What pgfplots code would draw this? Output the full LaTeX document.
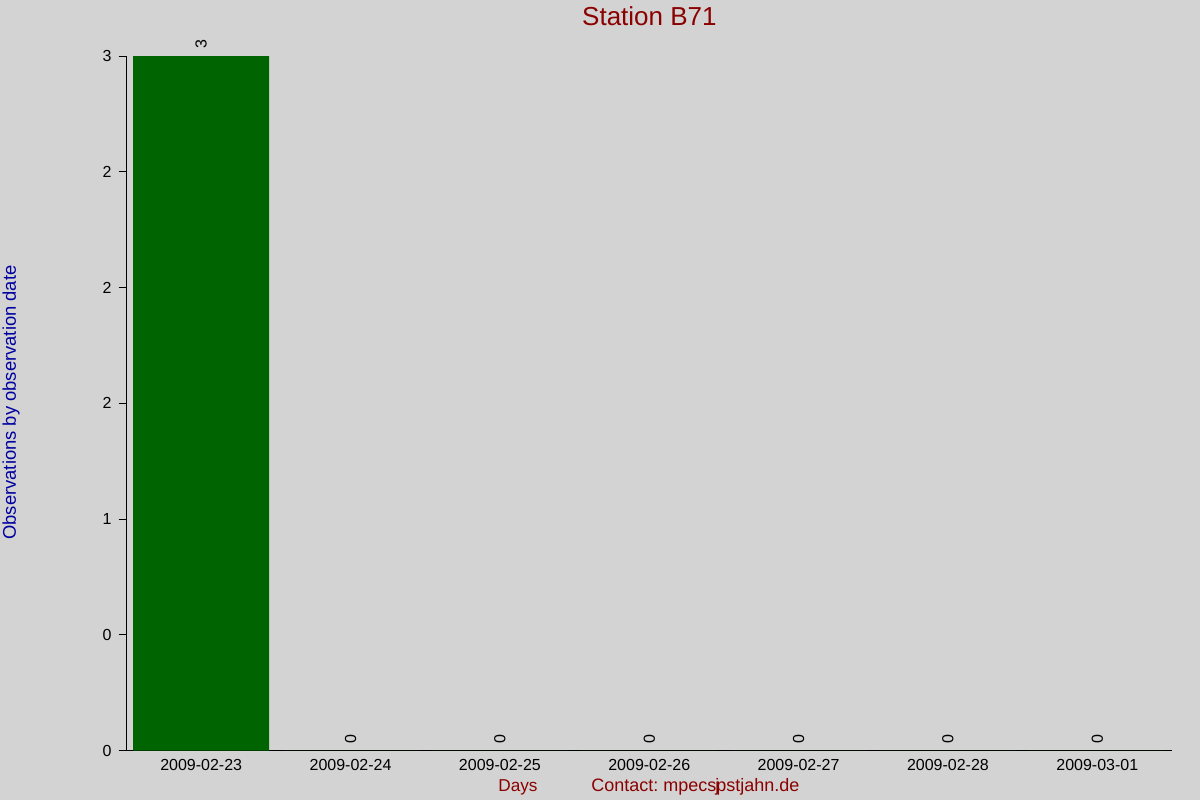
\documentclass[border=0pt]{standalone}
\usepackage{pgfplots}
\pgfplotsset{compat=1.18}
\usepackage{fontspec}
\setmainfont{Liberation Sans}
\definecolor{bg}{HTML}{D3D3D3}
\definecolor{bargreen}{HTML}{006400}
\definecolor{titlered}{HTML}{8B0000}
\definecolor{labelblue}{HTML}{0000A0}
\begin{document}
\frenchspacing
\begin{tikzpicture}
\useasboundingbox (0,0) rectangle (600pt,400pt);
\fill[bg] (0,0) rectangle (600pt,400pt);
\begin{axis}[
    at={(63.25pt,24.75pt)}, anchor=south west,
    scale only axis, width=522.75pt, height=347.25pt,
    xmin=-0.5, xmax=6.5, ymin=0, ymax=3,
    axis lines*=left,
    axis line style={black, line width=0.5pt},
    xtick={0,...,6},
    xticklabels={2009-02-23,2009-02-24,2009-02-25,2009-02-26,2009-02-27,2009-02-28,2009-03-01},
    ytick={0,0.5,...,3},
    yticklabels={0,0,1,2,2,2,3},
    tick align=outside,
    major tick length=4pt,
    x tick style={draw=none},
    y tick style={black, line width=0.5pt},
    ticklabel style={font=\fontsize{8}{9.6}\selectfont},
    xticklabel style={yshift=3pt},
    /pgf/number format/assume math mode=true,
    ybar, bar width=68pt, bar shift=0pt,
    nodes near coords,
    nodes near coords style={rotate=90, anchor=west, font=\fontsize{8}{9.6}\selectfont},
    clip=false,
]
\addplot[fill=bargreen, draw=none] coordinates {
    (0,3) (1,0) (2,0) (3,0) (4,0) (5,0) (6,0)
};
\end{axis}
% title and labels
\node[anchor=base, text=titlered, font=\fontsize{13}{15}\selectfont] at (324.7pt,387pt) {Station B71};
\node[anchor=center, rotate=90, text=labelblue, font=\fontsize{9.2}{11}\selectfont] at (5.5pt,198.75pt) {Observations by observation date};
\node[anchor=base west, inner sep=0pt, text=titlered, font=\fontsize{8.6}{10}\selectfont] at (249pt,4.5pt) {Days};
\node[anchor=base west, inner sep=0pt, text=titlered, font=\fontsize{9}{10}\selectfont] at (295.5pt,4.5pt) {Contact: mpecs\kern-0.5pt j\kern-1.5pt pstjahn.de};
\end{tikzpicture}
\end{document}
